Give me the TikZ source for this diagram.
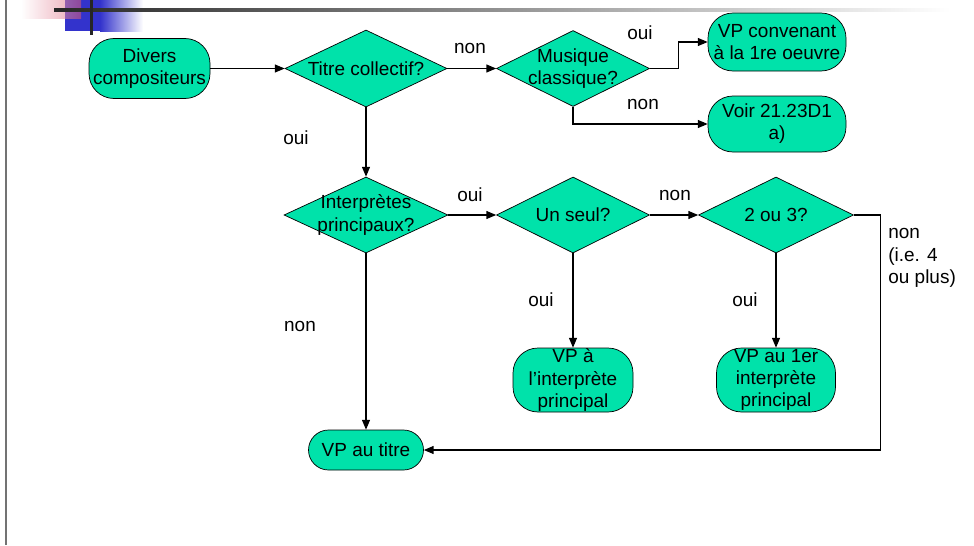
\documentclass[tikz,border=0pt]{standalone}
\usepackage{fontspec}
\setmainfont{Liberation Sans}
\usetikzlibrary{arrows.meta,shapes}
\tikzset{
  term/.style={draw=black,fill=cbox,rounded corners=0.5cm,align=center,inner sep=0pt,font=\fontsize{10.8}{12.6}\selectfont},
  decision/.style={draw=black,fill=cbox,shape=diamond,inner sep=0pt},
  dtext/.style={align=center,inner sep=0pt,font=\fontsize{10.8}{12.6}\selectfont},
  lbl/.style={inner sep=0pt,align=left,font=\fontsize{10.8}{12.6}\selectfont},
  flow/.style={->,>={Triangle[length=5.5pt,width=4.5pt]},line width=0.6pt}
}
\begin{document}
\begin{tikzpicture}
%
\useasboundingbox (0,0) rectangle (19.48cm,10.9cm);
%
\definecolor{cbox}{rgb}{0.0,0.886,0.667}
\definecolor{cblue}{rgb}{0.2,0.2,0.8}
\definecolor{cpink}{rgb}{0.85,0.35,0.45}
\definecolor{cedge}{rgb}{0.45,0.45,0.45}
%
% slide decoration
\draw[cedge,line width=1.2pt] (0.12,0) -- (0.12,10.9);
\fill[cblue] (1.30,10.28) rectangle (2.00,10.9);
\shade[left color=cblue,right color=white] (2.00,10.28) rectangle (2.86,10.9);
\shade[left color=white,right color=cpink,opacity=0.55] (0.42,10.54) rectangle (1.62,10.9);
\shade[left color=black!85,right color=white] (1.08,10.665) rectangle (19.0,10.735);
\fill[black!85] (1.79,10.2) rectangle (1.85,10.9);
%
\node[term,minimum width=2.42cm,minimum height=1.2cm] (div) at (2.99,9.53) {Divers\\compositeurs};
\node[decision,minimum width=3.24cm,minimum height=1.54cm,label={[dtext]center:Titre collectif?}] (titre) at (7.32,9.53) {};
\node[decision,minimum width=3.06cm,minimum height=1.52cm,label={[dtext]center:Musique\\classique?}] (musique) at (11.46,9.53) {};
\node[term,minimum width=2.76cm,minimum height=1.16cm] (conv) at (15.54,10.06) {VP convenant\\à la 1re oeuvre};
\node[term,minimum width=2.76cm,minimum height=1.12cm] (voir) at (15.54,8.42) {Voir 21.23D1\\a)};
%
\node[decision,minimum width=3.28cm,minimum height=1.52cm,label={[dtext]center:Interprètes\\principaux?}] (interp) at (7.32,6.60) {};
\node[decision,minimum width=3.06cm,minimum height=1.52cm,label={[dtext]center:Un seul?}] (seul) at (11.46,6.60) {};
\node[decision,minimum width=3.10cm,minimum height=1.52cm,label={[dtext]center:2 ou 3?}] (deuxtrois) at (15.52,6.60) {};
%
\node[term,minimum width=2.4cm,minimum height=1.28cm] (vpinterp) at (11.46,3.30) {VP à\\l'interprète\\principal};
\node[term,minimum width=2.38cm,minimum height=1.28cm] (vppremier) at (15.52,3.30) {VP au 1er\\interprète\\principal};
\node[term,rounded corners=0.4cm,minimum width=2.3cm,minimum height=0.8cm] (vptitre) at (7.32,1.90) {VP au titre};
%
\node[lbl] (l1) at (9.40,9.94) {non};
\node[lbl] (l2) at (12.80,10.24) {oui};
\node[lbl] (l3) at (12.86,8.82) {non};
\node[lbl] (l4) at (5.92,8.14) {oui};
\node[lbl] (l5) at (9.40,7.00) {oui};
\node[lbl] (l6) at (13.50,7.00) {non};
\node[lbl] (l7) at (10.82,4.90) {oui};
\node[lbl] (l8) at (14.90,4.90) {oui};
\node[lbl] (l9) at (6.00,4.38) {non};
\node[lbl,anchor=west] (l10) at (17.76,5.74) {non\\(i.e. 4\\ou plus)};
%
\draw[flow] (div) -- (titre);
\draw[flow] (titre) -- (musique);
\draw[flow] (musique.east) -- ++(0.58,0) |- (conv.west);
\draw[flow] (musique.south) |- (voir.west);
\draw[flow] (titre) -- (interp);
\draw[flow] (interp) -- (seul);
\draw[flow] (seul) -- (deuxtrois);
\draw[flow] (deuxtrois.east) -- ++(0.54,0) |- (vptitre.east);
\draw[flow] (seul) -- (vpinterp);
\draw[flow] (deuxtrois) -- (vppremier);
\draw[flow] (interp) -- (vptitre);
%
\end{tikzpicture}
\end{document}
